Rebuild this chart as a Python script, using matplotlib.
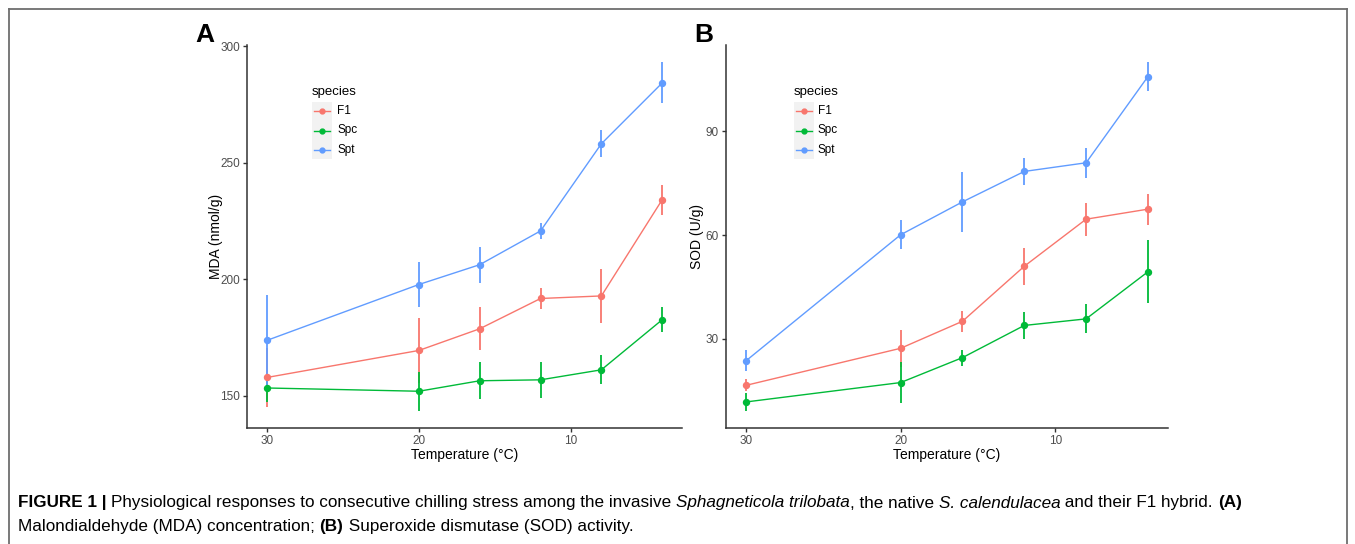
import matplotlib
matplotlib.use("Agg")
import matplotlib.pyplot as plt
from matplotlib.lines import Line2D
from matplotlib.patches import Rectangle

plt.rcParams['font.family'] = ['Liberation Sans', 'DejaVu Sans']

# data
temps = [30, 20, 16, 12, 8, 4]
species = ['F1', 'Spc', 'Spt']
colors = {'F1': '#F8766D', 'Spc': '#00BA38', 'Spt': '#619CFF'}

mda_mean = {'F1': [157.9, 169.5, 178.8, 191.8, 192.9, 234.2],
            'Spc': [153.4, 152.0, 156.5, 156.9, 161.2, 182.7],
            'Spt': [173.8, 197.8, 206.3, 220.8, 258.2, 284.3]}
mda_se = {'F1': [12.7, 14.0, 9.3, 4.7, 11.7, 6.5],
          'Spc': [6.0, 8.3, 7.9, 7.7, 6.3, 5.4],
          'Spt': [19.6, 9.8, 7.7, 3.4, 5.9, 8.8]}

sod_mean = {'F1': [16.6, 27.3, 35.1, 51.0, 64.6, 67.5],
            'Spc': [11.8, 17.4, 24.6, 33.9, 35.8, 49.4],
            'Spt': [23.7, 60.1, 69.6, 78.4, 80.9, 105.8]}
sod_se = {'F1': [1.7, 5.3, 3.0, 5.4, 4.8, 4.5],
          'Spc': [2.5, 6.0, 2.3, 4.0, 4.2, 9.1],
          'Spt': [3.0, 4.2, 8.6, 4.0, 4.3, 4.1]}

W, H = 1355, 544
fig = plt.figure(figsize=(W / 100, H / 100), dpi=100)


def px_axes(x0, x1, ytop, ybot):
    return fig.add_axes([x0 / W, 1 - ybot / H, (x1 - x0) / W, (ybot - ytop) / H])


def draw_panel(ax, means, ses, ylabel, yticks, ylab_x):
    lo, hi = [], []
    for sp in species:
        m, s = means[sp], ses[sp]
        lo += [a - b for a, b in zip(m, s)]
        hi += [a + b for a, b in zip(m, s)]
        ax.errorbar(temps, m, yerr=s, color=colors[sp], lw=1.0, elinewidth=1.3,
                    capsize=0, marker='o', ms=4.3, mec=colors[sp], zorder=3)
    rng = max(hi) - min(lo)
    ax.set_ylim(min(lo) - 0.05 * rng, max(hi) + 0.05 * rng)
    xr = max(temps) - min(temps)
    ax.set_xlim(max(temps) + 0.05 * xr, min(temps) - 0.05 * xr)
    ax.set_xticks([30, 20, 10])
    ax.set_yticks(yticks)
    for s in ['top', 'right']:
        ax.spines[s].set_visible(False)
    for s in ['left', 'bottom']:
        ax.spines[s].set_color('#333333')
        ax.spines[s].set_linewidth(1.1)
    ax.tick_params(colors='#333333', labelcolor='#4D4D4D', labelsize=8.5,
                   length=3, width=1, pad=2)
    ax.set_xlabel('Temperature (°C)', fontsize=10, labelpad=1)
    ax.set_ylabel(ylabel, fontsize=10)
    ax.yaxis.set_label_coords(ylab_x, 0.5)


def draw_legend(x0, x_label):
    # legend drawn in pixel space like ggplot's inside legend
    fig.text(x0 / W, 1 - 92 / H, 'species', fontsize=9.5, va='center', ha='left')
    fig.add_artist(Rectangle((x0 / W, 1 - 159 / H), 20 / W, 57 / H,
                             transform=fig.transFigure, facecolor='#F2F2F2',
                             edgecolor='none'))
    for i, sp in enumerate(species):
        yy = 1 - (111 + i * 19.5) / H
        fig.add_artist(Line2D([(x0 + 2) / W, (x0 + 18) / W], [yy, yy],
                              color=colors[sp], lw=1.0, marker=None))
        fig.add_artist(Line2D([(x0 + 10) / W], [yy], color=colors[sp],
                              marker='o', ms=3.5, lw=0))
        fig.text(x_label / W, yy, sp, fontsize=8.5, va='center', ha='left')


axA = px_axes(247, 682, 45, 428)
draw_panel(axA, mda_mean, mda_se, 'MDA (nmol/g)', [150, 200, 250, 300], -0.055)
axB = px_axes(726, 1168, 45, 428)
draw_panel(axB, sod_mean, sod_se, 'SOD (U/g)', [30, 60, 90], -0.05)

draw_legend(312, 337)
draw_legend(794, 818)

fig.text(205 / W, 1 - 35 / H, 'A', fontsize=19, fontweight='bold', ha='center', va='center')
fig.text(704 / W, 1 - 35 / H, 'B', fontsize=19, fontweight='bold', ha='center', va='center')

# outer frame, open at the bottom
fcol = '#6E6E6E'
fig.add_artist(Line2D([9 / W, 1347 / W], [1 - 8.5 / H, 1 - 8.5 / H], color=fcol, lw=1.3))
fig.add_artist(Line2D([9 / W, 9 / W], [0, 1 - 8.5 / H], color=fcol, lw=1.3))
fig.add_artist(Line2D([1347 / W, 1347 / W], [0, 1 - 8.5 / H], color=fcol, lw=1.3))

# caption with mixed styles
cap_size = 12.3
line1 = [('FIGURE 1 | ', 'bold', 'normal'),
         ('Physiological responses to consecutive chilling stress among the invasive ', 'normal', 'normal'),
         ('Sphagneticola trilobata', 'normal', 'italic'),
         (', the native ', 'normal', 'normal'),
         ('S. calendulacea', 'normal', 'italic'),
         (' and their F1 hybrid. ', 'normal', 'normal'),
         ('(A)', 'bold', 'normal')]
line2 = [('Malondialdehyde (MDA) concentration; ', 'normal', 'normal'),
         ('(B)', 'bold', 'normal'),
         (' Superoxide dismutase (SOD) activity.', 'normal', 'normal')]

renderer = fig.canvas.get_renderer()


def text_width(s, weight, style):
    # measure with guards so leading/trailing spaces count
    t = fig.text(0, 0, '|' + s + '|', fontsize=cap_size, fontweight=weight, fontstyle=style)
    g = fig.text(0, 0, '||', fontsize=cap_size, fontweight=weight, fontstyle=style)
    w = t.get_window_extent(renderer).width - g.get_window_extent(renderer).width
    t.remove()
    g.remove()
    return w


for pieces, ypix in [(line1, 503), (line2, 527)]:
    x = 18
    for s, weight, style in pieces:
        fig.text(x / W, 1 - ypix / H, s, fontsize=cap_size, fontweight=weight,
                 fontstyle=style, va='center', ha='left')
        x += text_width(s, weight, style)

fig.savefig('out.png', dpi=100)
